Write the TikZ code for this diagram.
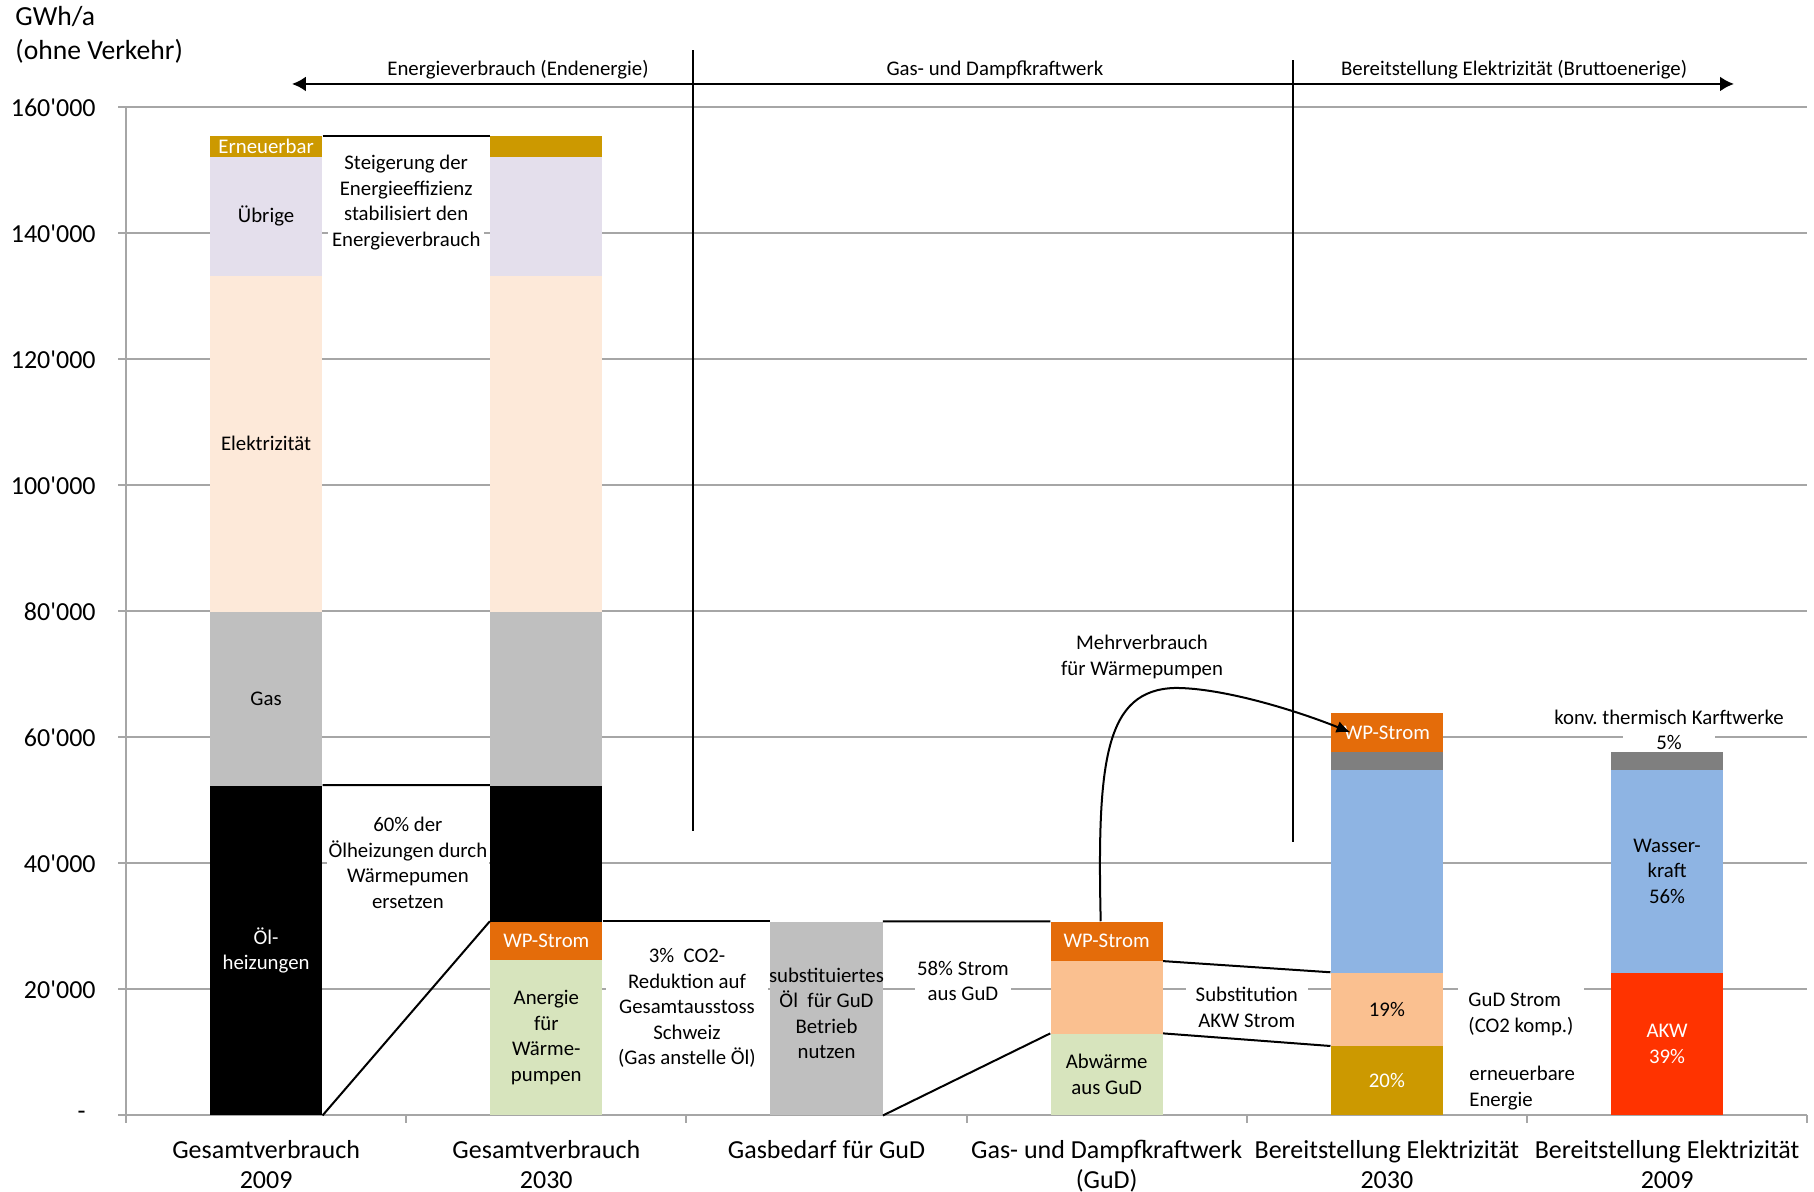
\documentclass[tikz,border=0pt]{standalone}
\usepackage{fontspec}
\setmainfont{Carlito}
\usetikzlibrary{arrows.meta}
\definecolor{renew}{HTML}{CC9900}
\definecolor{other}{HTML}{E4DFEC}
\definecolor{elec}{HTML}{FDE9D9}
\definecolor{gasgrey}{HTML}{BFBFBF}
\definecolor{heatpump}{HTML}{E46C0A}
\definecolor{anergy}{HTML}{D7E4BD}
\definecolor{ccgt}{HTML}{FAC090}
\definecolor{thermal}{HTML}{7F7F7F}
\definecolor{hydro}{HTML}{8EB4E3}
\definecolor{nuclear}{HTML}{FF3300}
\definecolor{gridgrey}{HTML}{A6A6A6}
\newcommand{\bigfont}{\fontsize{13}{15}\selectfont}
\newcommand{\thsd}[1]{#1\textquotesingle000}

\begin{document}
\begin{tikzpicture}[
      x=140.1pt, y=3.15pt,
      every node/.style={inner sep=0pt, align=center, font=\fontsize{10.4}{12.8}\selectfont},
      seg/.style n args={3}{anchor=south, minimum width=56.04pt,
        minimum height={(#3-#2)*3.15pt}, at={(#1,#2)}},
      light/.style={text=white},
      grid/.style={draw=gridgrey, line width=1pt},
      link/.style={draw=black, line width=1pt},
      note/.style={fill=white, inner xsep=#1, inner ysep=3pt},
      note/.default=2pt,
      cat/.style={font=\bigfont, anchor=north}
    ]
  \path[use as bounding box, fill=white] (-0.4497,-12.14) rectangle (6.0243,177.06);
  % axes and grid
  \foreach \v in {0,20,...,160}
    \draw[grid] (-0.0285,\v) -- (6,\v);
  \draw[grid] (0,0) -- (0,160);
  \foreach \i in {0,...,6}
    \draw[grid] (\i,0) -- (\i,-1.2);
  \foreach \v in {20,40,...,160}
    \node[anchor=east, font=\bigfont] (y\v) at (-0.107,\v) {\thsd{\v}};
  \node[anchor=east, font=\bigfont] (y0) at (-0.143,0) {-};
  \node[anchor=west, align=left, font=\fontsize{13.8}{16.8}\selectfont] (unit) at (-0.396,171.5) {GWh/a\\(ohne Verkehr)};

  % Gesamtverbrauch 2009
  \node[seg={0.5}{0}{52.3}, fill=black, light] (oel09) {Öl-\\heizungen};
  \node[seg={0.5}{52.3}{79.9}, fill=gasgrey] (gas09) {Gas};
  \node[seg={0.5}{79.9}{133.2}, fill=elec] (ele09) {Elektrizität};
  \node[seg={0.5}{133.2}{152.1}, fill=other] (oth09) {Übrige};
  \node[seg={0.5}{152.1}{155.4}, fill=renew, light] (ern09) {Erneuerbar};
  % Gesamtverbrauch 2030
  \node[seg={1.5}{0}{24.6}, fill=anergy] (ane30) {Anergie\\für\\Wärme-\\pumpen};
  \node[seg={1.5}{24.6}{30.7}, fill=heatpump, light] (wp30) {WP-Strom};
  \node[seg={1.5}{30.7}{52.3}, fill=black] (oel30) {};
  \node[seg={1.5}{52.3}{79.9}, fill=gasgrey] (gas30) {};
  \node[seg={1.5}{79.9}{133.2}, fill=elec] (ele30) {};
  \node[seg={1.5}{133.2}{152.1}, fill=other] (oth30) {};
  \node[seg={1.5}{152.1}{155.4}, fill=renew] (ern30) {};
  % Gasbedarf
  \node[seg={2.5}{0}{30.7}, fill=gasgrey] (gasgud) {};
  \node (gaslbl) at (2.5,16.2) {substituiertes\\Öl\ \ für GuD\\Betrieb\\nutzen};
  % GuD
  \node[seg={3.5}{0}{12.9}, fill=anergy] (abw) {Abwärme\\aus GuD};
  \node[seg={3.5}{12.9}{24.5}, fill=ccgt] (gudel) {};
  \node[seg={3.5}{24.5}{30.7}, fill=heatpump, light] (wpgud) {WP-Strom};
  % Bereitstellung 2030
  \node[seg={4.5}{0}{10.9}, fill=renew, light] (ren30) {20\%};
  \node[seg={4.5}{10.9}{22.6}, fill=ccgt] (gud30) {19\%};
  \node[seg={4.5}{22.6}{54.8}, fill=hydro] (hyd30) {};
  \node[seg={4.5}{54.8}{57.7}, fill=thermal] (thm30) {};
  \node[seg={4.5}{57.7}{63.8}, fill=heatpump, light] (wpel30) {WP-Strom};
  % Bereitstellung 2009
  \node[seg={5.5}{0}{22.6}, fill=nuclear, light] (akw09) {AKW\\39\%};
  \node[seg={5.5}{22.6}{54.8}, fill=hydro] (hyd09) {Wasser-\\kraft\\56\%};
  \node[seg={5.5}{54.8}{57.7}, fill=thermal] (thm09) {};

  % notes
  \node[note] (effnote) at (1,144.9) {Steigerung der\\Energieeffizienz\\stabilisiert den\\Energieverbrauch};
  \node[note=1pt] (oilnote) at (1.006,40.1) {60\% der\\Ölheizungen durch\\Wärmepumen\\ersetzen};
  \node[note=6pt] (co2note) at (2.002,17.06) {3\%\ \ CO2-\\Reduktion auf\\Gesamtausstoss\\Schweiz\\(Gas anstelle Öl)};
  \node[note=1pt] (gudnote) at (2.987,21.35) {58\% Strom\\aus GuD};
  \node (morenote) at (3.626,72.8) {Mehrverbrauch\\für Wärmepumpen};
  \node[note=5pt] (subnote) at (4.0,17.2) {Substitution\\AKW Strom};
  \node[note=5pt, anchor=west, align=left] (co2comp) at (4.754,16.0) {GuD Strom\\(CO2 komp.)};
  \node[anchor=west, align=left] (renote) at (4.793,4.37) {erneuerbare\\Energie};
  \node (thmnote) at (5.507,63.25) {konv.\ thermisch Karftwerke};
  \node[fill=white, inner ysep=1pt, minimum width=46pt] (thmpct) at (5.507,59.13) {5\%};

  % headers
  \node (hdcons) at (1.399,166.03) {Energieverbrauch (Endenergie)};
  \node (hdgud) at (3.101,166.03) {Gas- und Dampfkraftwerk};
  \node (hdsupply) at (4.954,166.03) {Bereitstellung Elektrizität (Bruttoenerige)};
  \coordinate (arrowL) at (0.592,163.73);
  \coordinate (arrowR) at (5.739,163.73);
  \draw[{Latex[length=7pt,width=7.5pt]}-{Latex[length=7pt,width=7.5pt]}, line width=1.3pt] (arrowL) -- (arrowR);
  \coordinate (sepAtop) at (2.0236,169.1);
  \coordinate (sepAbot) at (2.0236,45.2);
  \coordinate (sepBtop) at (4.165,167.5);
  \coordinate (sepBbot) at (4.165,43.4);
  \draw[link] (sepAtop) -- (sepAbot);
  \draw[link] (sepBtop) -- (sepBbot);

  % categories
  \node[cat] (cat1) at (0.5,-3.9) {Gesamtverbrauch\\2009};
  \node[cat] (cat2) at (1.5,-3.9) {Gesamtverbrauch\\2030};
  \node[cat] (cat3) at (2.5,-3.9) {Gasbedarf für GuD};
  \node[cat] (cat4) at (3.5,-3.9) {Gas- und Dampfkraftwerk\\(GuD)};
  \node[cat] (cat5) at (4.5,-3.9) {Bereitstellung Elektrizität\\2030};
  \node[cat] (cat6) at (5.5,-3.9) {Bereitstellung Elektrizität\\2009};

  % connectors
  \draw[link] (ern09.north east) -- (ern30.north west);
  \draw[link] (oel09.north east) -- (oel30.north west);
  \draw[link] (oel09.south east) -- (wp30.north west);
  \draw[link] (wp30.north east) -- (gasgud.north west);
  \draw[link] (gasgud.north east) -- (wpgud.north west);
  \draw[link] (gasgud.south east) -- (abw.north west);
  \draw[link] (wpgud.south east) -- (gud30.north west);
  \draw[link] (abw.north east) -- (ren30.north west);
  \coordinate (bend) at (3.744,67.86);
  \draw[link, -{Latex[length=7pt,width=6pt]}] ([xshift=-3pt]wpgud.north)
    .. controls (3.4654,56.43) and (3.494,67.54) .. (bend)
    .. controls (3.922,67.86) and (4.19,64.05) .. ([xshift=10pt]wpel30.west);
\end{tikzpicture}
\end{document}
